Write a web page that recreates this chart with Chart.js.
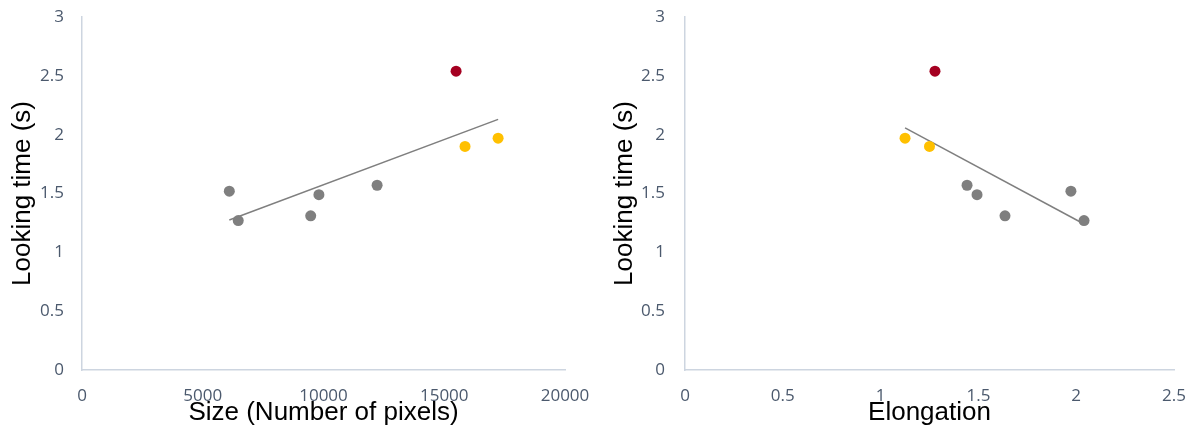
<!DOCTYPE html>
<html>
<head>
<meta charset="utf-8">
<script src="https://cdn.jsdelivr.net/npm/chart.js@4.4.1/dist/chart.umd.min.js"></script>
<style>
  html, body { margin: 0; padding: 0; background: #fff; }
  .wrap { display: flex; width: 1192px; height: 439px; }
  canvas { display: block; }
</style>
</head>
<body>
<div class="wrap">
  <canvas id="sizeChart" width="596" height="439"></canvas>
  <canvas id="elongChart" width="596" height="439"></canvas>
</div>
<script>
// looking time per stimulus (s)
const timeGray = [1.52, 1.27, 1.31, 1.49, 1.57];
const timeYellow = [1.90, 1.97];
const timeRed = [2.54];

// size (number of pixels), same stimuli order
const sizeGray = [6100, 6470, 9470, 9810, 12220];
const sizeYellow = [15860, 17230];
const sizeRed = [15490];

// elongation, same stimuli order
const elongGray = [1.973, 2.04, 1.636, 1.493, 1.442];
const elongYellow = [1.250, 1.125];
const elongRed = [1.278];

const yTicks = [0, 0.5, 1, 1.5, 2, 2.5, 3];

const GRAY = "#7f7f7f";
const YELLOW = "#ffc000";
const RED = "#a50021";
const TICK_COLOR = "#4b596d";
const AXIS_COLOR = "#cdd5e0";

function pts(xs, ys) {
  return xs.map((x, i) => ({ x: x, y: ys[i] }));
}

// linear least squares over all points, drawn from min x to max x
function trend(xs, ys) {
  const n = xs.length;
  const mx = xs.reduce((a, b) => a + b, 0) / n;
  const my = ys.reduce((a, b) => a + b, 0) / n;
  let sxy = 0, sxx = 0;
  xs.forEach((x, i) => {
    sxy += (x - mx) * (ys[i] - my);
    sxx += (x - mx) * (x - mx);
  });
  const slope = sxy / sxx;
  const x0 = Math.min(...xs), x1 = Math.max(...xs);
  return [
    { x: x0, y: my + slope * (x0 - mx) },
    { x: x1, y: my + slope * (x1 - mx) },
  ];
}

function makeChart(id, xs, xTitle, xMax, xStep, opts) {
  const allX = xs.gray.concat(xs.yellow, xs.red);
  const allY = timeGray.concat(timeYellow, timeRed);
  const dot = (data, color) => ({
    type: "scatter",
    data: data,
    backgroundColor: color,
    borderColor: color,
    pointRadius: 5.5,
    pointBorderWidth: 0,
    order: 0,
  });

  new Chart(document.getElementById(id), {
    type: "scatter",
    data: {
      datasets: [
        dot(pts(xs.gray, timeGray), GRAY),
        dot(pts(xs.yellow, timeYellow), YELLOW),
        dot(pts(xs.red, timeRed), RED),
        {
          type: "line",
          data: trend(allX, allY),
          borderColor: GRAY,
          borderWidth: 1.5,
          pointRadius: 0,
          fill: false,
          order: 1,
        },
      ],
    },
    options: {
      responsive: false,
      animation: false,
      events: [],
      layout: { padding: { left: 0, top: 17, right: opts.right, bottom: 0 } },
      plugins: { legend: { display: false }, tooltip: { enabled: false } },
      scales: {
        x: {
          type: "linear",
          min: 0,
          max: xMax,
          // ticks are invisible spacers; tick padding would also pad the plot area
          grid: { display: false, drawTicks: true, tickLength: 14 },
          border: { display: true, color: AXIS_COLOR, width: 1.5 },
          ticks: {
            stepSize: xStep,
            padding: 2,
            color: TICK_COLOR,
            font: { family: "'Open Sans', sans-serif", size: 17 },
            callback: (v) => String(v),
          },
          title: {
            display: true,
            text: xTitle,
            color: "#000",
            font: { family: "'Liberation Sans', Arial, sans-serif", size: 26 },
            padding: { top: 0, bottom: 11 },
          },
          afterFit: (s) => { s.height = 69; },
        },
        y: {
          min: 0,
          max: 3,
          afterBuildTicks: (s) => { s.ticks = yTicks.map((v) => ({ value: v })); },
          grid: { display: false, drawTicks: true, tickLength: opts.yTick },
          border: { display: true, color: AXIS_COLOR, width: 1.5 },
          ticks: {
            padding: 2,
            color: TICK_COLOR,
            font: { family: "'Open Sans', sans-serif", size: 17 },
            callback: (v) => String(v),
          },
          title: {
            display: true,
            text: "Looking time (s)",
            color: "#000",
            font: { family: "'Liberation Sans', Arial, sans-serif", size: 26 },
            padding: { top: opts.titlePad, bottom: 0 },
          },
          afterFit: (s) => { s.width = opts.yWidth; },
        },
      },
    },
  });
}

makeChart("sizeChart",
  { gray: sizeGray, yellow: sizeYellow, red: sizeRed },
  "Size (Number of pixels)", 20000, 5000,
  { right: 31, yWidth: 82, yTick: 16, titlePad: 7 });

makeChart("elongChart",
  { gray: elongGray, yellow: elongYellow, red: elongRed },
  "Elongation", 2.5, 0.5,
  { right: 18, yWidth: 89, yTick: 18, titlePad: 13 });
</script>
</body>
</html>
